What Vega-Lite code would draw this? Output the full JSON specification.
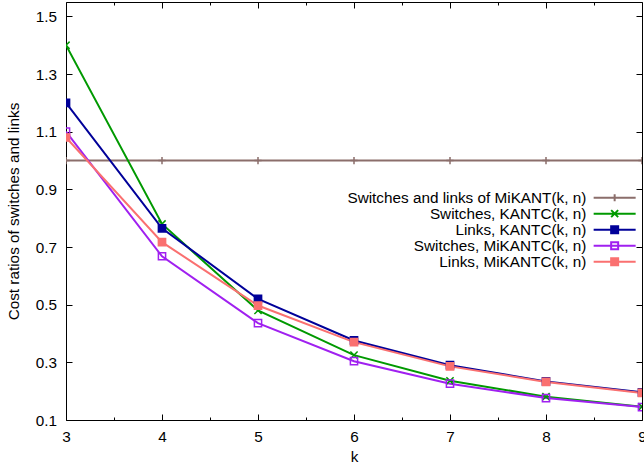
{
  "$schema": "https://vega.github.io/schema/vega-lite/v6.json",
  "width": 576,
  "height": 418,
  "autosize": {"type": "none"},
  "padding": {"left": 66, "top": 2, "right": 2, "bottom": 49},
  "background": "white",
  "config": {
    "font": "Liberation Sans",
    "view": {"stroke": "black", "strokeWidth": 1},
    "axis": {"labelFont": "Liberation Sans", "titleFont": "Liberation Sans", "labelColor": "black", "titleColor": "black", "tickColor": "black", "domainColor": "black", "labelFontSize": 15.3, "titleFontSize": 15.3, "titleFontWeight": "normal", "grid": false, "labelFlush": false, "labelOverlap": false}
  },
  "data": {"values": [
    {"k": 3, "value": 1.0, "series": "Switches and links of MiKANT(k, n)"},
    {"k": 4, "value": 1.0, "series": "Switches and links of MiKANT(k, n)"},
    {"k": 5, "value": 1.0, "series": "Switches and links of MiKANT(k, n)"},
    {"k": 6, "value": 1.0, "series": "Switches and links of MiKANT(k, n)"},
    {"k": 7, "value": 1.0, "series": "Switches and links of MiKANT(k, n)"},
    {"k": 8, "value": 1.0, "series": "Switches and links of MiKANT(k, n)"},
    {"k": 9, "value": 1.0, "series": "Switches and links of MiKANT(k, n)"},
    {"k": 3, "value": 1.4, "series": "Switches, KANTC(k, n)"},
    {"k": 4, "value": 0.78, "series": "Switches, KANTC(k, n)"},
    {"k": 5, "value": 0.48, "series": "Switches, KANTC(k, n)"},
    {"k": 6, "value": 0.325, "series": "Switches, KANTC(k, n)"},
    {"k": 7, "value": 0.236, "series": "Switches, KANTC(k, n)"},
    {"k": 8, "value": 0.181, "series": "Switches, KANTC(k, n)"},
    {"k": 9, "value": 0.146, "series": "Switches, KANTC(k, n)"},
    {"k": 3, "value": 1.2, "series": "Links, KANTC(k, n)"},
    {"k": 4, "value": 0.765, "series": "Links, KANTC(k, n)"},
    {"k": 5, "value": 0.52, "series": "Links, KANTC(k, n)"},
    {"k": 6, "value": 0.376, "series": "Links, KANTC(k, n)"},
    {"k": 7, "value": 0.29, "series": "Links, KANTC(k, n)"},
    {"k": 8, "value": 0.234, "series": "Links, KANTC(k, n)"},
    {"k": 9, "value": 0.196, "series": "Links, KANTC(k, n)"},
    {"k": 3, "value": 1.1, "series": "Switches, MiKANTC(k, n)"},
    {"k": 4, "value": 0.668, "series": "Switches, MiKANTC(k, n)"},
    {"k": 5, "value": 0.436, "series": "Switches, MiKANTC(k, n)"},
    {"k": 6, "value": 0.304, "series": "Switches, MiKANTC(k, n)"},
    {"k": 7, "value": 0.226, "series": "Switches, MiKANTC(k, n)"},
    {"k": 8, "value": 0.176, "series": "Switches, MiKANTC(k, n)"},
    {"k": 9, "value": 0.145, "series": "Switches, MiKANTC(k, n)"},
    {"k": 3, "value": 1.08, "series": "Links, MiKANTC(k, n)"},
    {"k": 4, "value": 0.717, "series": "Links, MiKANTC(k, n)"},
    {"k": 5, "value": 0.497, "series": "Links, MiKANTC(k, n)"},
    {"k": 6, "value": 0.37, "series": "Links, MiKANTC(k, n)"},
    {"k": 7, "value": 0.286, "series": "Links, MiKANTC(k, n)"},
    {"k": 8, "value": 0.232, "series": "Links, MiKANTC(k, n)"},
    {"k": 9, "value": 0.194, "series": "Links, MiKANTC(k, n)"}
  ]},
  "layer": [
    {
      "mark": {"type": "line", "strokeWidth": 2, "clip": true},
      "encoding": {
        "x": {"field": "k", "type": "quantitative", "scale": {"domain": [3, 9], "nice": false, "zero": false},
          "axis": {"orient": "bottom", "title": "k", "titlePadding": 2, "values": [3, 3.5, 4, 4.5, 5, 5.5, 6, 6.5, 7, 7.5, 8, 8.5, 9],
            "labelExpr": "datum.value % 1 == 0 ? format(datum.value, 'd') : ''",
            "tickSize": {"condition": {"test": "datum.value % 1 != 0", "value": -3}, "value": -6},
            "labelPadding": 15.5, "domain": false}},
        "y": {"field": "value", "type": "quantitative", "scale": {"domain": [0.1, 1.55], "nice": false, "zero": false},
          "axis": {"orient": "left", "title": "Cost ratios of switches and links", "titlePadding": 13.5, "values": [0.1, 0.3, 0.5, 0.7, 0.9, 1.1, 1.3, 1.5], "format": ".1f", "tickSize": -6, "labelPadding": 15.5, "domain": false}},
        "color": {"field": "series", "type": "nominal", "legend": null,
          "scale": {"domain": ["Switches and links of MiKANT(k, n)", "Switches, KANTC(k, n)", "Links, KANTC(k, n)", "Switches, MiKANTC(k, n)", "Links, MiKANTC(k, n)"],
                    "range": ["#8b6e6b", "#009900", "#000099", "#a020f0", "#fa7070"]}}
      }
    },
    {
      "mark": {"type": "point", "size": 52, "strokeWidth": 1.5, "opacity": 1, "filled": true, "fillOpacity": 1, "strokeOpacity": 1, "clip": true},
      "encoding": {
        "x": {"field": "k", "type": "quantitative",
          "axis": {"orient": "top", "title": null, "labels": false, "values": [3, 3.5, 4, 4.5, 5, 5.5, 6, 6.5, 7, 7.5, 8, 8.5, 9],
            "tickSize": {"condition": {"test": "datum.value % 1 != 0", "value": -3}, "value": -6}, "domain": false}},
        "y": {"field": "value", "type": "quantitative",
          "axis": {"orient": "right", "title": null, "labels": false, "values": [0.1, 0.3, 0.5, 0.7, 0.9, 1.1, 1.3, 1.5], "tickSize": -6, "domain": false}},
        "shape": {"field": "series", "type": "nominal", "legend": null,
          "scale": {"domain": ["Switches and links of MiKANT(k, n)", "Switches, KANTC(k, n)", "Links, KANTC(k, n)", "Switches, MiKANTC(k, n)", "Links, MiKANTC(k, n)"],
                    "range": ["M-1,0H1M0,-1V1", "M-1,-1L1,1M-1,1L1,-1", "M-1,-1L1,-1L1,1L-1,1ZM-1,-1L1,1M-1,1L1,-1", "M-1,-1L1,-1L1,1L-1,1Z", "M-1,-1L1,-1L1,1L-1,1Z"]}},
        "fill": {"field": "series", "type": "nominal", "legend": null,
          "scale": {"domain": ["Switches and links of MiKANT(k, n)", "Switches, KANTC(k, n)", "Links, KANTC(k, n)", "Switches, MiKANTC(k, n)", "Links, MiKANTC(k, n)"],
                    "range": ["#8b6e6b", "#009900", "#000099", "transparent", "#fa7070"]}},
        "stroke": {"field": "series", "type": "nominal", "legend": null,
          "scale": {"domain": ["Switches and links of MiKANT(k, n)", "Switches, KANTC(k, n)", "Links, KANTC(k, n)", "Switches, MiKANTC(k, n)", "Links, MiKANTC(k, n)"],
                    "range": ["#8b6e6b", "#009900", "#000099", "#a020f0", "#fa7070"]}}
      }
    },
    {
      "mark": {"type": "point", "size": 49, "strokeWidth": 2, "opacity": 0, "filled": true},
      "encoding": {
        "x": {"field": "k", "type": "quantitative", "axis": null},
        "y": {"field": "value", "type": "quantitative", "axis": null},
        "shape": {"field": "series", "type": "nominal",
          "scale": {"domain": ["Switches and links of MiKANT(k, n)", "Switches, KANTC(k, n)", "Links, KANTC(k, n)", "Switches, MiKANTC(k, n)", "Links, MiKANTC(k, n)"],
                    "range": ["M-6,0H6M0,-1V1", "M-6,0H6M-1,-1L1,1M-1,1L1,-1", "M-6,0H6M-1,-1L1,-1L1,1L-1,1ZM-1,-1L1,1M-1,1L1,-1M-1,-0.5H1M-1,0.5H1", "M-6,0H6M-1,-1L1,-1L1,1L-1,1Z", "M-6,0H6M-1,-1L1,-1L1,1L-1,1ZM-1,-0.5H1M-1,0.5H1M-0.5,-1V1M0.5,-1V1"]},
          "legend": {"orient": "none", "legendX": 541, "legendY": 188, "title": null, "padding": 0, "labelAlign": "right", "labelOffset": -36, "labelLimit": 500,
            "labelFont": "Liberation Sans", "labelFontSize": 15.3, "labelColor": "black", "labelBaseline": "middle", "symbolSize": 49, "symbolStrokeWidth": 2, "rowPadding": -4.5,
            "encode": {"symbols": {"update": {"opacity": {"value": 1}, "fillOpacity": {"value": 1}, "strokeOpacity": {"value": 1}}}}}},
        "fill": {"field": "series", "type": "nominal",
          "scale": {"domain": ["Switches and links of MiKANT(k, n)", "Switches, KANTC(k, n)", "Links, KANTC(k, n)", "Switches, MiKANTC(k, n)", "Links, MiKANTC(k, n)"],
                    "range": ["#8b6e6b", "#009900", "#000099", "transparent", "#fa7070"]}},
        "stroke": {"field": "series", "type": "nominal",
          "scale": {"domain": ["Switches and links of MiKANT(k, n)", "Switches, KANTC(k, n)", "Links, KANTC(k, n)", "Switches, MiKANTC(k, n)", "Links, MiKANTC(k, n)"],
                    "range": ["#8b6e6b", "#009900", "#000099", "#a020f0", "#fa7070"]}}
      }
    }
  ],
  "resolve": {"axis": {"x": "independent", "y": "independent"}, "scale": {"shape": "independent", "fill": "independent", "stroke": "independent"}, "legend": {"shape": "independent", "fill": "independent", "stroke": "independent"}}
}
